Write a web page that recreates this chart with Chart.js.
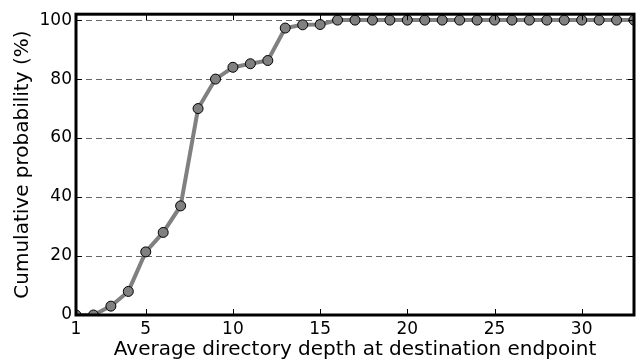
<!DOCTYPE html>
<html>
<head>
<meta charset="utf-8">
<script src="https://cdn.jsdelivr.net/npm/chart.js@4"></script>
<style>
html, body { margin: 0; padding: 0; background: #fff; }
canvas { display: block; }
</style>
</head>
<body>
<canvas id="cdfChart" width="641" height="362"></canvas>
<script>
// average directory depth (x) and cumulative probability in % (y)
var depths = [1, 2, 3, 4, 5, 6, 7, 8, 9, 10, 11, 12, 13, 14, 15, 16, 17,
              18, 19, 20, 21, 22, 23, 24, 25, 26, 27, 28, 29, 30, 31, 32, 33];
var cumulative = [0, 0, 3, 8, 21.4, 28, 37, 70, 80, 84, 85.2, 86.3, 97.3, 98.4, 98.5,
                  100, 100, 100, 100, 100, 100, 100, 100, 100, 100, 100, 100, 100, 100,
                  100, 100, 100, 100];
var xTicks = [1, 5, 10, 15, 20, 25, 30];
var yTicks = [0, 20, 40, 60, 80, 100];

Chart.defaults.font.family = "'DejaVu Sans', sans-serif";
Chart.defaults.font.size = 17;
Chart.defaults.color = '#000';

// matplotlib style box with inward ticks
var framePlugin = {
    id: 'frame',
    afterDatasetsDraw: function(chart) {
        var a = chart.chartArea;
        var ctx = chart.ctx;
        var xs = chart.scales.x, ys = chart.scales.y;
        ctx.save();
        ctx.strokeStyle = '#000';
        ctx.lineWidth = 1;
        ctx.beginPath();
        xTicks.forEach(function(v) {
            var px = Math.round(xs.getPixelForValue(v)) + 0.5;
            ctx.moveTo(px, a.bottom); ctx.lineTo(px, a.bottom - 6);
            ctx.moveTo(px, a.top); ctx.lineTo(px, a.top + 6);
        });
        yTicks.forEach(function(v) {
            var py = Math.round(ys.getPixelForValue(v)) + 0.5;
            ctx.moveTo(a.left, py); ctx.lineTo(a.left + 6, py);
            ctx.moveTo(a.right, py); ctx.lineTo(a.right - 6, py);
        });
        ctx.stroke();
        ctx.lineWidth = 3;
        ctx.strokeRect(a.left, a.top, a.right - a.left, a.bottom - a.top);
        ctx.restore();
    }
};

var ctx = document.getElementById('cdfChart');
var cdfChart = new Chart(ctx, {
    type: 'line',
    data: {
        labels: depths,
        datasets: [{
            data: depths.map(function(d, i) { return {x: d, y: cumulative[i]}; }),
            borderColor: '#808080',
            borderWidth: 4,
            backgroundColor: '#808080',
            pointBackgroundColor: '#808080',
            pointBorderColor: '#000',
            pointBorderWidth: 1,
            pointRadius: 5,
            tension: 0,
            clip: 0
        }]
    },
    options: {
        responsive: false,
        animation: false,
        layout: { padding: { left: 0, right: 7, top: 13, bottom: 0 } },
        plugins: { legend: { display: false }, tooltip: { enabled: false } },
        scales: {
            x: {
                type: 'linear',
                min: 1,
                max: 33,
                afterBuildTicks: function(scale) {
                    scale.ticks = xTicks.map(function(v) { return {value: v}; });
                },
                afterFit: function(scale) { scale.height = 47; },
                grid: { display: false, drawTicks: false },
                border: { display: false },
                ticks: { padding: 4, maxRotation: 0, autoSkip: false },
                title: {
                    display: true,
                    text: 'Average directory depth at destination endpoint',
                    font: { size: 20 },
                    padding: { top: 0, bottom: 0 }
                }
            },
            y: {
                min: 0,
                max: 102,
                afterBuildTicks: function(scale) {
                    scale.ticks = yTicks.map(function(v) { return {value: v}; });
                },
                afterFit: function(scale) { scale.width = 76; },
                grid: { color: '#666', lineWidth: 1, drawTicks: false },
                border: { display: false, dash: [6, 4] },
                ticks: { padding: 4 },
                title: {
                    display: true,
                    text: 'Cumulative probability (%)',
                    font: { size: 20 },
                    padding: { top: 11, bottom: 0 }
                }
            }
        }
    },
    plugins: [framePlugin]
});
</script>
</body>
</html>
